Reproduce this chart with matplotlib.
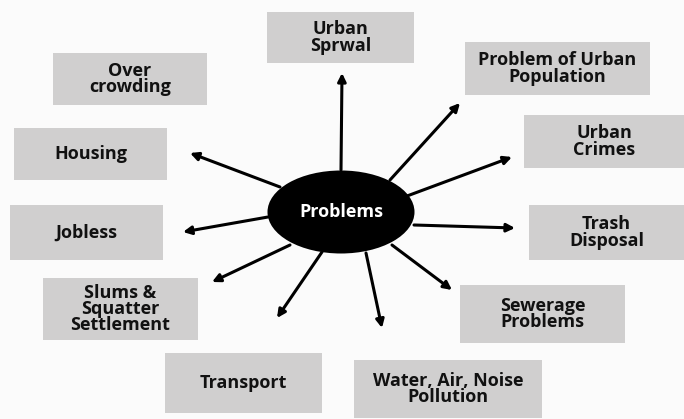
import matplotlib
matplotlib.use('Agg')
from matplotlib import pyplot as plt
from matplotlib.patches import Ellipse, Rectangle

# labels of the problem boxes
labels = ['Urban\nSprwal', 'Problem of Urban\nPopulation', 'Urban\nCrimes',
          'Trash\nDisposal', 'Sewerage\nProblems', 'Water, Air, Noise\nPollution',
          'Transport', 'Slums &\nSquatter\nSettlement', 'Jobless', 'Housing',
          'Over\ncrowding']
centre_label = 'Problems'

# box layout in pixels (left, top, right, bottom)
boxes = [(267, 12, 414, 63), (465, 42, 650, 95), (524, 115, 684, 168),
         (529, 205, 684, 260), (460, 285, 625, 343), (354, 360, 542, 418),
         (165, 353, 322, 413), (43, 278, 198, 340), (10, 205, 163, 260),
         (14, 128, 167, 180), (53, 53, 207, 105)]

# arrows: start on the ellipse, tip near the box (None = no arrow)
arrows = [((341, 170), (342, 73)), ((390, 180), (460, 103)), ((407, 196), (512, 157)),
          ((414, 225), (515, 228)), ((392, 245), (452, 290)), ((366, 253), (382, 328)),
          ((322, 252), (277, 318)), ((290, 245), (212, 282)), ((268, 217), (183, 232)),
          ((280, 187), (190, 153)), None]

plt.rcParams['font.family'] = ['Open Sans', 'DejaVu Sans']

fig = plt.figure(figsize=(6.84, 4.19), dpi=100)
ax = fig.add_axes([0, 0, 1, 1])
ax.set_xlim(0, 684)
ax.set_ylim(419, 0)
ax.axis('off')
fig.patch.set_facecolor('#fbfbfb')

for lab, (l, t, r, b) in zip(labels, boxes):
    ax.add_patch(Rectangle((l, t), r - l, b - t, facecolor='#d0cfcf', edgecolor='none'))
    ax.text((l + r) / 2, (t + b) / 2, lab, ha='center', va='center', fontsize=13,
            fontweight='bold', color='#111111', linespacing=0.88)

for arr in arrows:
    if arr is None:
        continue
    (x0, y0), (x1, y1) = arr
    ax.annotate('', xy=(x1, y1), xytext=(x0, y0),
                arrowprops=dict(arrowstyle='-|>', color='black', lw=2.2,
                                mutation_scale=12, shrinkA=0, shrinkB=0))

ax.add_patch(Ellipse((341, 212), 147, 83, facecolor='black', edgecolor='none', zorder=3))
ax.text(341, 212, centre_label, ha='center', va='center', fontsize=13,
        fontweight='bold', color='white', zorder=4)

fig.savefig('out.png', dpi=100, facecolor=fig.get_facecolor())
